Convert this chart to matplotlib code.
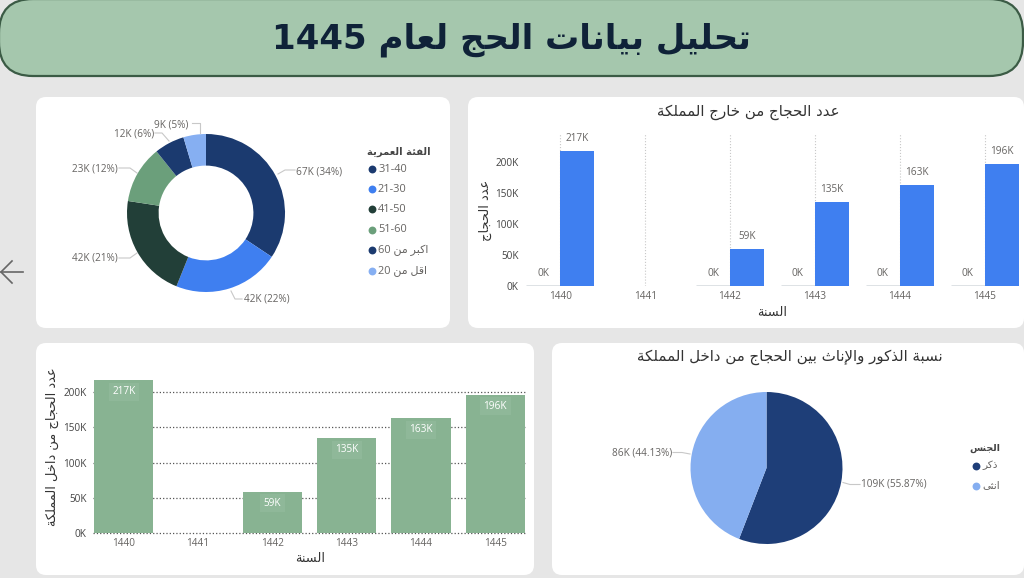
import re
import matplotlib
matplotlib.use("Agg")
import matplotlib.pyplot as plt
from matplotlib.patches import FancyBboxPatch

# Data
age_groups = ["31-40", "21-30", "41-50", "51-60", "اكبر من 60", "اقل من 20"]
age_values = [67, 42.4, 41.6, 23, 12, 9]
age_colors = ["#1B3A6F", "#3F7FF0", "#223F38", "#6B9F7B", "#1B3A6F", "#86AFF2"]

years = ["1440", "1441", "1442", "1443", "1444", "1445"]
outside_zero = [0, float("nan"), 0, 0, 0, 0]
outside_values = [217, float("nan"), 59, 135, 163, 196]
inside_values = [217, float("nan"), 59, 135, 163, 196]
y_ticks = [0, 50, 100, 150, 200]

genders = ["ذكر", "انثى"]
gender_values = [108.9, 86.0]
gender_colors = ["#1E3E78", "#85AEF0"]

# Arabic presentation forms: isolated, final, initial, medial
forms = {
    "ء": (0xFE80,), "أ": (0xFE83, 0xFE84), "إ": (0xFE87, 0xFE88),
    "ئ": (0xFE89, 0xFE8A, 0xFE8B, 0xFE8C), "ا": (0xFE8D, 0xFE8E),
    "ب": (0xFE8F, 0xFE90, 0xFE91, 0xFE92), "ة": (0xFE93, 0xFE94),
    "ت": (0xFE95, 0xFE96, 0xFE97, 0xFE98), "ث": (0xFE99, 0xFE9A, 0xFE9B, 0xFE9C),
    "ج": (0xFE9D, 0xFE9E, 0xFE9F, 0xFEA0), "ح": (0xFEA1, 0xFEA2, 0xFEA3, 0xFEA4),
    "خ": (0xFEA5, 0xFEA6, 0xFEA7, 0xFEA8), "د": (0xFEA9, 0xFEAA),
    "ذ": (0xFEAB, 0xFEAC), "ر": (0xFEAD, 0xFEAE),
    "س": (0xFEB1, 0xFEB2, 0xFEB3, 0xFEB4), "ع": (0xFEC9, 0xFECA, 0xFECB, 0xFECC),
    "ف": (0xFED1, 0xFED2, 0xFED3, 0xFED4), "ق": (0xFED5, 0xFED6, 0xFED7, 0xFED8),
    "ك": (0xFED9, 0xFEDA, 0xFEDB, 0xFEDC), "ل": (0xFEDD, 0xFEDE, 0xFEDF, 0xFEE0),
    "م": (0xFEE1, 0xFEE2, 0xFEE3, 0xFEE4), "ن": (0xFEE5, 0xFEE6, 0xFEE7, 0xFEE8),
    "ه": (0xFEE9, 0xFEEA, 0xFEEB, 0xFEEC), "و": (0xFEED, 0xFEEE),
    "ى": (0xFEEF, 0xFEF0), "ي": (0xFEF1, 0xFEF2, 0xFEF3, 0xFEF4),
}
lam_alef = {"ا": (0xFEFB, 0xFEFC), "إ": (0xFEF9, 0xFEFA), "أ": (0xFEF7, 0xFEF8)}


def joins_next(ch):
    return ch in forms and len(forms[ch]) == 4


def ar(text):
    # matplotlib has no shaping or bidi, so pick the glyph forms and flip the order
    out = []
    i = 0
    prev_joins = False
    while i < len(text):
        ch = text[i]
        nxt = text[i + 1] if i + 1 < len(text) else ""
        if ch == "ل" and nxt in lam_alef:
            out.append(chr(lam_alef[nxt][1 if prev_joins else 0]))
            prev_joins = False
            i += 2
            continue
        if ch in forms:
            f = forms[ch]
            next_ok = nxt in forms and joins_next(ch)
            if len(f) == 1:
                g = f[0]
            elif prev_joins and next_ok:
                g = f[3]
            elif prev_joins:
                g = f[1]
            elif next_ok:
                g = f[2]
            else:
                g = f[0]
            out.append(chr(g))
            prev_joins = joins_next(ch)
        else:
            out.append(ch)
            prev_joins = False
        i += 1
    shaped = "".join(out)
    # keep the digit runs left to right
    parts = re.findall(r"[0-9\-]+|[^0-9\-]+", shaped)
    return "".join(p if p[0] in "0123456789-" else p[::-1] for p in reversed(parts))


W, H = 1024, 578
fonts = ["Open Sans", "DejaVu Sans"]
plt.rcParams["font.family"] = fonts


def px(size):
    return size * 0.72


fig = plt.figure(figsize=(W / 100, H / 100), dpi=100, facecolor="#E6E6E6")

bg = fig.add_axes([0, 0, 1, 1], zorder=0)
bg.set_xlim(0, W)
bg.set_ylim(H, 0)
bg.axis("off")


def box_axes(left, top, right, bottom, zorder=2):
    ax = fig.add_axes([left / W, 1 - bottom / H, (right - left) / W, (bottom - top) / H], zorder=zorder)
    ax.patch.set_visible(False)
    return ax


def panel(x0, y0, x1, y1):
    bg.add_patch(FancyBboxPatch((x0, y0), x1 - x0, y1 - y0, boxstyle="round,pad=0,rounding_size=10",
                                fc="white", ec="none"))


panel(36, 97, 450, 328)
panel(468, 97, 1024, 328)
panel(36, 343, 534, 575)
panel(552, 343, 1024, 575)

# Header
bg.add_patch(FancyBboxPatch((-1, -1), 1024, 77, boxstyle="round,pad=0,rounding_size=34",
                            fc="#A5C7AD", ec="#3B5B45", lw=1.6))
bg.text(511, 40, ar("تحليل بيانات الحج لعام 1445"), fontsize=24.5, fontweight="bold", color="#0F2238",
        ha="center", va="center", family="DejaVu Sans")

# Back arrow
bg.plot([23, 1], [272, 272], color="#666666", lw=1.2)
bg.plot([12, 1, 12], [261, 272, 283], color="#666666", lw=1.2)

label_color = "#666462"
title_color = "#333333"

# Donut
ax1 = box_axes(206 - 79, 213 - 79, 206 + 79, 213 + 79)
ax1.pie(age_values, colors=age_colors, startangle=90, counterclock=False, radius=1,
        wedgeprops=dict(width=0.4, edgecolor="none"))
ax1.set_xlim(-1, 1)
ax1.set_ylim(-1, 1)

age_total = sum(age_values)
donut_text_xy = [(319, 172), (267, 299), (95, 258), (95, 169), (134, 134), (171, 125)]
donut_leaders = [[(278, 174), (285, 170), (295, 170)], [(231, 291), (235, 299), (242, 299)],
                 [(137, 253), (130, 258), (119, 258)], [(137, 173), (130, 168), (119, 168)],
                 [(169, 141), (162, 133), (155, 133)], [(200, 133), (200, 123), (192, 123)]]
for val, xy, line in zip(age_values, donut_text_xy, donut_leaders):
    bg.text(xy[0], xy[1], "{:.0f}K ({:.0f}%)".format(val, val / age_total * 100), fontsize=px(10),
            color=label_color, ha="center", va="center")
    bg.plot([p[0] for p in line], [p[1] for p in line], color="#C8C8C8", lw=0.8)

bg.text(431, 152, ar("الفئة العمرية"), fontsize=px(10), fontweight="bold", color="#444444",
        ha="right", va="center", family="DejaVu Sans")
legend_ys = [169, 189, 209, 230, 250, 271]
for name, col, y in zip(age_groups, age_colors, legend_ys):
    bg.scatter([372], [y], s=32, color=col, lw=0)
    bg.text(378, y, ar(name), fontsize=px(11), color=label_color, ha="left", va="center")

# Outside bars
ax2 = box_axes(522, 133, 1024, 286)
positions = list(range(len(years)))
ax2.bar([p - 0.4 for p in positions], outside_zero, width=0.4, align="edge", color="#5B6B7B",
        edgecolor="#5B6B7B", lw=1)
ax2.bar(positions, outside_values, width=0.4, align="edge", color="#3F7FF0")
ax2.set_xlim(-0.45, 5.463)
ax2.set_ylim(0, 246)
ax2.set_xticks(positions, years)
ax2.set_yticks(y_ticks, ["{}K".format(t) for t in y_ticks])
ax2.tick_params(length=0, labelsize=px(10), labelcolor=label_color)
ax2.tick_params(axis="x", pad=3.5)
ax2.tick_params(axis="y", pad=2.5, labelcolor="#444444")
ax2.xaxis.grid(True, linestyle=":", color="#C8C8C8", lw=0.8)
ax2.set_axisbelow(True)
for s in ax2.spines.values():
    s.set_visible(False)
for p, z, v in zip(positions, outside_zero, outside_values):
    if v == v:
        ax2.annotate("{}K".format(v), (p + 0.2, v), xytext=(0, 9), textcoords="offset points",
                     ha="center", va="center", fontsize=px(10), color=label_color)
        ax2.annotate("{}K".format(z), (p - 0.2, z), xytext=(0, 9), textcoords="offset points",
                     ha="center", va="center", fontsize=px(10), color=label_color)

bg.text(748, 112.5, ar("عدد الحجاج من خارج المملكة"), fontsize=px(15), color=title_color,
        ha="center", va="center", family="DejaVu Sans")
bg.text(772, 312.5, ar("السنة"), fontsize=px(13), color=title_color, ha="center", va="center",
        family="DejaVu Sans")
bg.text(485, 210, ar("عدد الحجاج"), fontsize=px(13), color=title_color, rotation=90, ha="center",
        va="center", family="DejaVu Sans")

# Inside bars
ax3 = box_axes(93, 372, 525, 533.3)
ax3.bar(positions, inside_values, width=0.795, color="#88B392")
ax3.set_xlim(-0.414, 5.40)
ax3.set_ylim(0, 228)
ax3.set_xticks(positions, years)
ax3.set_yticks(y_ticks, ["{}K".format(t) for t in y_ticks])
ax3.tick_params(length=0, labelsize=px(10), labelcolor=label_color)
ax3.tick_params(axis="x", pad=3.2)
ax3.tick_params(axis="y", pad=4.5, labelcolor="#444444")
ax3.yaxis.grid(True, linestyle=":", color="#555555", lw=0.9)
for line in ax3.get_ygridlines():
    line.set_clip_on(False)
ax3.set_axisbelow(True)
for s in ax3.spines.values():
    s.set_visible(False)
for p, v in zip(positions, inside_values):
    if v == v:
        ax3.annotate("{}K".format(v), (p, v), xytext=(0, -8.5), textcoords="offset points",
                     ha="center", va="center", fontsize=px(10), color="white",
                     bbox=dict(boxstyle="square,pad=0.35", fc="#8FB899", ec="none"))

bg.text(310, 559, ar("السنة"), fontsize=px(13), color=title_color, ha="center", va="center",
        family="DejaVu Sans")
bg.text(52, 447, ar("عدد الحجاج من داخل المملكة"), fontsize=px(13), color=title_color, rotation=90,
        ha="center", va="center", family="DejaVu Sans")

# Gender pie
ax4 = box_axes(766.5 - 76, 468 - 76, 766.5 + 76, 468 + 76)
ax4.pie(gender_values, colors=gender_colors, startangle=90, counterclock=False, radius=1,
        wedgeprops=dict(edgecolor="none"))
ax4.set_xlim(-1, 1)
ax4.set_ylim(-1, 1)

gender_total = sum(gender_values)
pie_text_xy = [(894, 484), (642, 453)]
pie_leaders = [[(843, 482.5), (850, 484.5), (860, 484.5)], [(690, 454), (682, 452.5), (673, 452.5)]]
for val, xy, line in zip(gender_values, pie_text_xy, pie_leaders):
    bg.text(xy[0], xy[1], "{:.0f}K ({:.2f}%)".format(val, val / gender_total * 100), fontsize=px(10),
            color=label_color, ha="center", va="center")
    bg.plot([p[0] for p in line], [p[1] for p in line], color="#C8C8C8", lw=0.8)

bg.text(790, 357.5, ar("نسبة الذكور والإناث بين الحجاج من داخل المملكة"), fontsize=px(15),
        color=title_color, ha="center", va="center", family="DejaVu Sans")
bg.text(1000, 448.5, ar("الجنس"), fontsize=px(9.5), fontweight="bold", color="#444444", ha="right",
        va="center", family="DejaVu Sans")
for name, col, y in zip(genders, gender_colors, [465.5, 486]):
    bg.scatter([976], [y], s=32, color=col, lw=0)
    bg.text(982, y, ar(name), fontsize=px(10.5), color=label_color, ha="left", va="center")

bg.set_xlim(0, W)
bg.set_ylim(H, 0)

fig.savefig("out.png", dpi=100, facecolor=fig.get_facecolor())
